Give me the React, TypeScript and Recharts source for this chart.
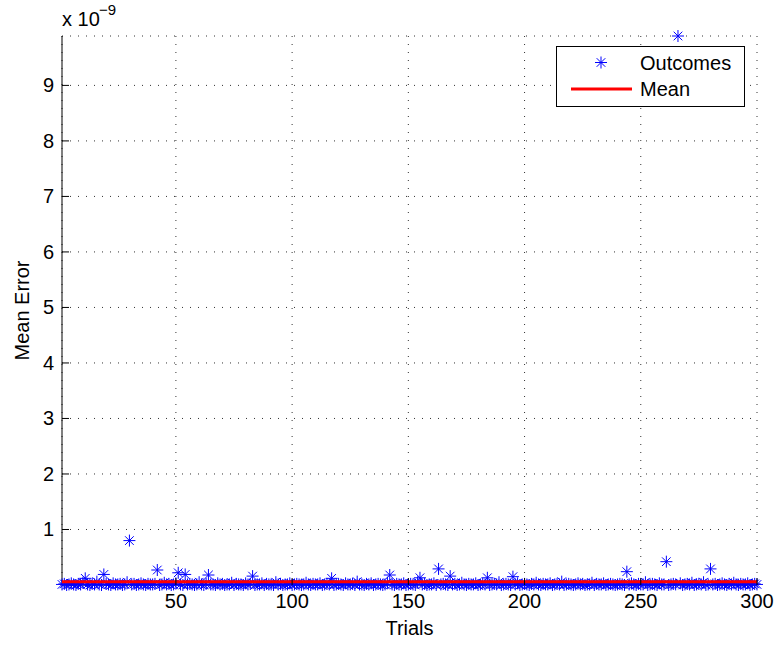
import React from 'react';
import { ComposedChart, Scatter, XAxis, YAxis, CartesianGrid, Legend } from 'recharts';

const TITLE = 'Matrix size n=6+floor(30*rand), rank=2';
const X_LABEL = 'Trials';
const Y_LABEL = 'Mean Error';
const Y_EXPONENT = '\u22129';
const SERIES_NAMES = ['Outcomes', 'Mean'];
const X_TICKS = [50, 100, 150, 200, 250, 300];
const Y_TICKS = [1, 2, 3, 4, 5, 6, 7, 8, 9];
const X_DOMAIN = [1, 300];
const Y_DOMAIN = [0, 9.89];

// Mean error per trial, in units of 1e-9
const errors = [
  0.01, 0.02, 0.00, 0.01, 0.03, 0.01, 0.00, 0.02, 0.01, 0.04, 0.12, 0.01, 0.00, 0.02, 0.01, 0.06, 0.01, 0.00, 0.19, 0.02,
  0.01, 0.00, 0.03, 0.01, 0.01, 0.02, 0.00, 0.01, 0.05, 0.80, 0.01, 0.02, 0.00, 0.01, 0.03, 0.01, 0.00, 0.02, 0.01, 0.01,
  0.02, 0.27, 0.00, 0.01, 0.04, 0.01, 0.02, 0.00, 0.01, 0.03, 0.22, 0.01, 0.00, 0.19, 0.01, 0.02, 0.01, 0.00, 0.01, 0.05,
  0.01, 0.00, 0.02, 0.18, 0.01, 0.01, 0.00, 0.03, 0.01, 0.02, 0.00, 0.01, 0.01, 0.04, 0.00, 0.02, 0.01, 0.01, 0.00, 0.03,
  0.01, 0.02, 0.16, 0.00, 0.01, 0.01, 0.03, 0.00, 0.02, 0.01, 0.01, 0.00, 0.05, 0.01, 0.02, 0.00, 0.01, 0.01, 0.03, 0.00,
  0.01, 0.02, 0.01, 0.00, 0.01, 0.04, 0.01, 0.00, 0.02, 0.01, 0.01, 0.03, 0.00, 0.01, 0.02, 0.01, 0.12, 0.00, 0.01, 0.02,
  0.01, 0.00, 0.03, 0.01, 0.01, 0.02, 0.00, 0.06, 0.01, 0.01, 0.00, 0.02, 0.01, 0.03, 0.00, 0.01, 0.02, 0.01, 0.00, 0.01,
  0.04, 0.18, 0.01, 0.00, 0.02, 0.01, 0.01, 0.03, 0.00, 0.01, 0.02, 0.01, 0.00, 0.05, 0.13, 0.01, 0.02, 0.00, 0.01, 0.01,
  0.03, 0.00, 0.29, 0.01, 0.02, 0.01, 0.00, 0.16, 0.01, 0.02, 0.00, 0.01, 0.04, 0.01, 0.00, 0.02, 0.01, 0.01, 0.03, 0.00,
  0.01, 0.02, 0.01, 0.13, 0.00, 0.01, 0.02, 0.01, 0.05, 0.00, 0.01, 0.02, 0.01, 0.00, 0.15, 0.01, 0.03, 0.00, 0.01, 0.02,
  0.01, 0.00, 0.02, 0.01, 0.04, 0.01, 0.00, 0.02, 0.01, 0.01, 0.03, 0.00, 0.01, 0.02, 0.01, 0.06, 0.00, 0.01, 0.02, 0.01,
  0.00, 0.01, 0.03, 0.01, 0.02, 0.00, 0.01, 0.01, 0.04, 0.00, 0.02, 0.01, 0.01, 0.03, 0.00, 0.01, 0.02, 0.01, 0.00, 0.01,
  0.02, 0.01, 0.00, 0.24, 0.01, 0.03, 0.01, 0.00, 0.02, 0.01, 0.01, 0.05, 0.00, 0.01, 0.02, 0.01, 0.00, 0.03, 0.01, 0.01,
  0.42, 0.00, 0.01, 0.02, 0.01, 9.89, 0.03, 0.00, 0.01, 0.02, 0.01, 0.04, 0.00, 0.01, 0.02, 0.01, 0.05, 0.00, 0.01, 0.29,
  0.01, 0.02, 0.00, 0.01, 0.03, 0.01, 0.00, 0.02, 0.01, 0.04, 0.01, 0.00, 0.02, 0.01, 0.01, 0.03, 0.00, 0.01, 0.02, 0.01,
];

const trials = errors.map((_, i) => i + 1);
const meanError = errors.reduce((a, b) => a + b, 0) / errors.length;
const outcomeData = trials.map((t, i) => ({ trial: t, err: errors[i] }));
const meanData = [
  { trial: trials[0], err: meanError },
  { trial: trials[trials.length - 1], err: meanError },
];

const FONT = '"Liberation Sans", Arial, Helvetica, sans-serif';
const BLUE = '#0000ff';
const RED = '#ff0000';
const TICK_LEN = 7;

const starPath = (cx: number, cy: number, r: number) => {
  const d = r * 0.72;
  return `M${cx - r},${cy}L${cx + r},${cy}M${cx},${cy - r}L${cx},${cy + r}` +
    `M${cx - d},${cy - d}L${cx + d},${cy + d}M${cx - d},${cy + d}L${cx + d},${cy - d}`;
};

const StarShape = (props: any) => {
  const { cx, cy } = props;
  if (cx == null || cy == null) return null;
  return <path d={starPath(cx, cy, 6)} stroke={BLUE} strokeWidth={1} fill="none" />;
};

const NoShape = () => <g />;

const BottomTick = (props: any) => {
  const { x, y, payload } = props;
  return (
    <g>
      <line x1={x} y1={y} x2={x} y2={y - TICK_LEN} stroke="#000" strokeWidth={1} />
      <text x={x} y={y + 23} textAnchor="middle" fontSize={20} fontFamily={FONT} fill="#000">{payload.value}</text>
    </g>
  );
};

const TopTick = (props: any) => {
  const { x, y } = props;
  return <line x1={x} y1={y} x2={x} y2={y + TICK_LEN} stroke="#000" strokeWidth={1} />;
};

const LeftTick = (props: any) => {
  const { x, y, payload } = props;
  return (
    <g>
      <line x1={x + 8} y1={y} x2={x + 8 + TICK_LEN} y2={y} stroke="#000" strokeWidth={1} />
      <text x={x} y={y + 7} textAnchor="end" fontSize={20} fontFamily={FONT} fill="#000">{payload.value}</text>
    </g>
  );
};

const RightTick = (props: any) => {
  const { x, y } = props;
  return <line x1={x} y1={y} x2={x - TICK_LEN} y2={y} stroke="#000" strokeWidth={1} />;
};

const YLabelContent = (props: any) => {
  const vb = props.viewBox || { x: 0, y: 36, width: 62, height: 549 };
  const cy = vb.y + vb.height / 2;
  const axisX = vb.x + vb.width;
  return (
    <g fontFamily={FONT} fill="#000">
      <text x={22} y={cy} transform={`rotate(-90, 22, ${cy})`} textAnchor="middle" dominantBaseline="central" fontSize={20}>{Y_LABEL}</text>
      <text x={axisX} y={vb.y - 10} fontSize={20}>x 10</text>
      <text x={axisX + 37} y={vb.y - 21} fontSize={15}>{Y_EXPONENT}</text>
    </g>
  );
};

const TitleContent = (props: any) => {
  const vb = props.viewBox || { x: 62, y: 36, width: 695, height: 0 };
  return (
    <text x={vb.x + vb.width / 2} y={vb.y - 17} textAnchor="middle" fontSize={20} fontFamily={FONT} fill="#000">{TITLE}</text>
  );
};

const XLabelContent = (props: any) => {
  const vb = props.viewBox || { x: 62, y: 585, width: 695, height: 61 };
  return (
    <text x={vb.x + vb.width / 2} y={vb.y + 50} textAnchor="middle" fontSize={20} fontFamily={FONT} fill="#000">{X_LABEL}</text>
  );
};

const LegendContent = () => (
  <svg width={190} height={62} style={{ display: 'block' }}>
    <rect x={0.5} y={0.5} width={188} height={60} fill="#fff" stroke="#000" strokeWidth={1} />
    <path d={starPath(45, 16.5, 6)} stroke={BLUE} strokeWidth={1} fill="none" />
    <text x={84} y={23.5} fontSize={20} fontFamily={FONT} fill="#000">{SERIES_NAMES[0]}</text>
    <line x1={15} y1={43} x2={76} y2={43} stroke={RED} strokeWidth={3} />
    <text x={84} y={50} fontSize={20} fontFamily={FONT} fill="#000">{SERIES_NAMES[1]}</text>
  </svg>
);

export default function App() {
  return (
    <div style={{ position: 'absolute', left: 0, top: 0, width: 776, height: 646, background: '#fff' }}>
      <ComposedChart width={776} height={646} margin={{ top: 36, right: 19, bottom: 0, left: 0 }}>
        <CartesianGrid stroke="#333" strokeDasharray="1 7" strokeWidth={1} />
        <XAxis
          dataKey="trial"
          type="number"
          domain={X_DOMAIN}
          ticks={X_TICKS}
          height={61}
          tickSize={0}
          tickMargin={0}
          tickLine={false}
          axisLine={{ stroke: '#000' }}
          tick={<BottomTick />}
          label={<XLabelContent />}
        />
        <XAxis
          xAxisId="top"
          orientation="top"
          dataKey="trial"
          type="number"
          domain={X_DOMAIN}
          ticks={X_TICKS}
          height={0}
          tickSize={0}
          tickMargin={0}
          tickLine={false}
          axisLine={{ stroke: '#000' }}
          tick={<TopTick />}
          label={<TitleContent />}
        />
        <YAxis
          dataKey="err"
          type="number"
          domain={Y_DOMAIN}
          ticks={Y_TICKS}
          width={62}
          tickSize={0}
          tickMargin={8}
          tickLine={false}
          axisLine={{ stroke: '#000' }}
          tick={<LeftTick />}
          label={<YLabelContent />}
        />
        <YAxis
          yAxisId="right"
          orientation="right"
          type="number"
          domain={Y_DOMAIN}
          ticks={Y_TICKS}
          width={0}
          tickSize={0}
          tickMargin={0}
          tickLine={false}
          axisLine={{ stroke: '#000' }}
          tick={<RightTick />}
        />
        <Legend
          layout="vertical"
          align="center"
          verticalAlign="middle"
          content={<LegendContent />}
          wrapperStyle={{ position: 'absolute', left: 556, top: 46, width: 190, height: 62 }}
        />
        <Scatter name={SERIES_NAMES[0]} data={outcomeData} dataKey="err" shape={<StarShape />} isAnimationActive={false} />
        <Scatter
          name={SERIES_NAMES[1]}
          data={meanData}
          dataKey="err"
          shape={<NoShape />}
          line={{ stroke: RED, strokeWidth: 3 }}
          lineType="joint"
          isAnimationActive={false}
        />
      </ComposedChart>
    </div>
  );
}
